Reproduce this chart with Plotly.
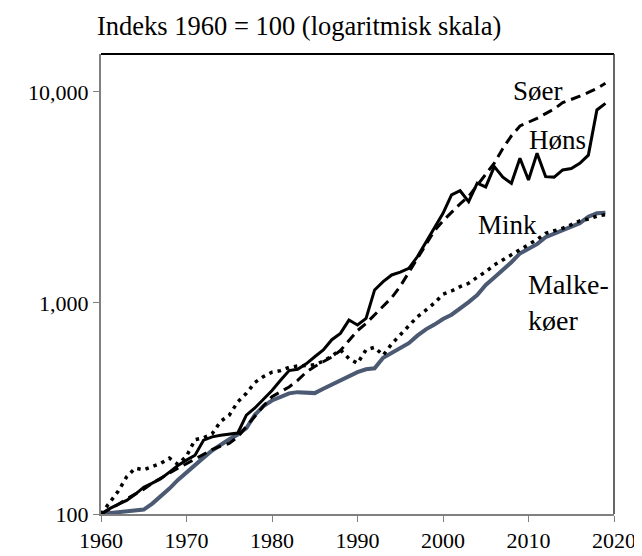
import numpy as np
import plotly.graph_objects as go

years = list(range(1960, 2020))

soer = [100, 105, 111, 118, 124, 131, 140, 148, 156, 165,
        173, 182, 192, 202, 210, 216, 232, 260, 290, 325,
        360, 380, 400, 430, 470, 500, 525, 555, 595, 665,
        740, 800, 880, 960, 1060, 1200, 1400, 1630, 1880, 2200,
        2450, 2700, 2950, 3200, 3600, 4100, 4600, 5400, 6200, 6900,
        7200, 7500, 7900, 8300, 8900, 9200, 9550, 9950, 10400, 10990]

hoens = [100, 106, 111, 116, 124, 134, 140, 147, 158, 170,
         180, 190, 224, 232, 236, 239, 242, 294, 318, 350,
         385, 430, 478, 485, 515, 556, 599, 670, 718, 830,
         787, 846, 1153, 1263, 1358, 1400, 1460, 1656, 1950, 2260,
         2660, 3250, 3405, 3020, 3700, 3550, 4430, 3950, 3690, 4850,
         3830, 5120, 3970, 3950, 4270, 4340, 4590, 5020, 8220, 8830]

mink = [100, 114, 128, 150, 165, 162, 168, 174, 184, 172,
        188, 225, 230, 240, 275, 294, 340, 373, 420, 448,
        470, 478, 495, 503, 505, 510, 530, 560, 600, 545,
        518, 600, 617, 565, 640, 705, 773, 860, 926, 1000,
        1100, 1140, 1195, 1240, 1325, 1406, 1514, 1600, 1690, 1783,
        1900, 2000, 2140, 2200, 2260, 2350, 2450, 2500, 2580, 2620]

malkekoeer = [100, 101, 102, 103, 104, 105, 112, 121, 132, 145,
              158, 170, 185, 200, 213, 226, 238, 255, 295, 325,
              345, 360, 373, 378, 376, 374, 392, 410, 428, 446,
              470, 485, 490, 550, 580, 610, 645, 700, 750, 790,
              840, 880, 940, 1010, 1090, 1217, 1320, 1433, 1560, 1718,
              1815, 1900, 2050, 2130, 2190, 2280, 2390, 2565, 2660, 2680]

x_ticks = [1960, 1970, 1980, 1990, 2000, 2010, 2020]
y_ticks = [100, 1000, 10000]
y_ticktext = ["100", "1,000", "10,000"]

FONT = "Times New Roman, Liberation Serif, serif"

fig = go.Figure()
fig.add_trace(go.Scatter(x=years, y=malkekoeer, mode="lines",
                         line=dict(color="#4b5a72", width=4), name="Malkekøer"))
fig.add_trace(go.Scatter(x=years, y=mink, mode="lines",
                         line=dict(color="black", width=3.5, dash="3.5px,5px"), name="Mink"))
fig.add_trace(go.Scatter(x=years, y=soer, mode="lines",
                         line=dict(color="black", width=3, dash="10px,6px"), name="Søer"))
fig.add_trace(go.Scatter(x=years, y=hoens, mode="lines",
                         line=dict(color="black", width=3), name="Høns"))

labels = [
    ("Søer", 2011.1, 4.005),
    ("Høns", 2013.4, 3.773),
    ("Mink", 2007.6, 3.370),
]
for txt, xx, yy in labels:
    fig.add_annotation(x=xx, y=yy, xref="x", yref="y", text=txt,
                       showarrow=False, font=dict(family=FONT, size=27, color="black"),
                       xanchor="center", yanchor="middle")
fig.add_annotation(x=2009.7, y=3.0, xref="x", yref="y",
                   text="Malke-<br>køer", showarrow=False, align="left",
                   font=dict(family=FONT, size=28, color="black"),
                   xanchor="left", yanchor="middle")

fig.add_annotation(x=-0.012, y=1.0, xref="paper", yref="paper", yshift=11,
                   text="Indeks 1960 = 100 (logaritmisk skala)", showarrow=False,
                   font=dict(family=FONT, size=26.5, color="black"),
                   xanchor="left", yanchor="bottom")

# top and right frame
fig.add_shape(type="line", xref="paper", yref="paper", x0=0, x1=1, y0=1, y1=1,
              line=dict(color="black", width=2))
fig.add_shape(type="line", xref="paper", yref="paper", x0=1, x1=1, y0=0, y1=1,
              line=dict(color="#333333", width=1.5))

fig.update_layout(
    width=642, height=556,
    margin=dict(l=93, r=36, t=46, b=50),
    paper_bgcolor="white", plot_bgcolor="white",
    showlegend=False,
    font=dict(family=FONT, size=22, color="black"),
)
fig.update_xaxes(range=[1960, 2020], tickvals=x_ticks, ticks="outside", ticklen=6,
                 tickcolor="#808080", showgrid=False, zeroline=False,
                 showline=True, linecolor="#808080", linewidth=2,
                 tickfont=dict(family=FONT, size=22, color="black"))
fig.update_yaxes(type="log", range=[2, 4.18], tickvals=y_ticks, ticktext=y_ticktext,
                 ticks="outside", ticklen=6, tickcolor="#808080", showgrid=False,
                 zeroline=False, showline=True, linecolor="#808080", linewidth=2,
                 tickfont=dict(family=FONT, size=22, color="black"))

fig.write_html("out.html")
